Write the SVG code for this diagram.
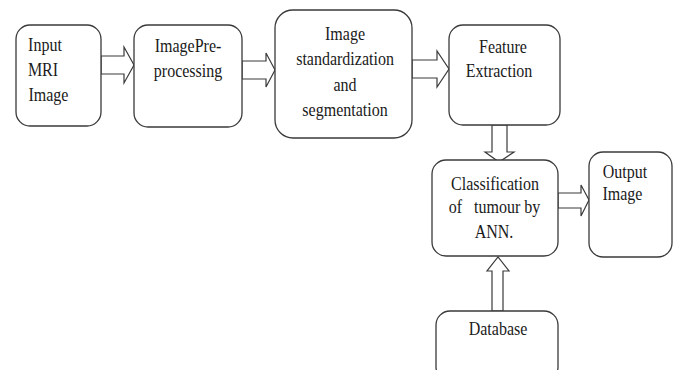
<svg xmlns="http://www.w3.org/2000/svg" width="678" height="370" viewBox="0 0 678 370">
<style>
.box{fill:#fff;stroke:#3a3a3a;stroke-width:1.3}
.arr{fill:#fff;stroke:#3a3a3a;stroke-width:1.2;stroke-linejoin:miter}
.t text{font-family:'Liberation Serif',serif;font-size:18px;fill:#1a1a1a;transform-box:fill-box;transform-origin:center;transform:scaleX(0.89)}
.c{text-anchor:middle}
</style>
<rect width="678" height="370" fill="#fff"/>
<g id="connectors">
<polygon class="arr" points="101,56 124,56 124,47 134,65 124,83 124,74 101,74"/>
<polygon class="arr" points="242,61 266,61 266,53 275,70 266,87 266,79 242,79"/>
<polygon class="arr" points="412,60 437,60 437,51 449,69 437,87 437,78 412,78"/>
<polygon class="arr" points="492,125 507,125 507,152 514,152 499,162 485,152 492,152"/>
<polygon class="arr" points="558,193 581,193 581,185 589,200 581,216 581,208 558,208"/>
<polygon class="arr" points="492,311 492,271 487,271 498,257 509,271 503,271 503,311"/>
</g>
<g id="input" class="t">
<rect class="box" x="16" y="25" width="85" height="101" rx="14"/>
<text x="26" y="51">Input</text>
<text x="26" y="76">MRI</text>
<text x="26" y="101">Image</text>
</g>
<g id="preprocessing" class="t">
<rect class="box" x="134" y="25" width="108" height="102" rx="14"/>
<text class="c" x="188" y="52">ImagePre-</text>
<text class="c" x="188" y="77">processing</text>
</g>
<g id="standardization" class="t">
<rect class="box" x="275" y="10" width="137" height="128" rx="18"/>
<text class="c" x="345" y="40">Image</text>
<text class="c" x="345" y="65">standardization</text>
<text class="c" x="345" y="91">and</text>
<text class="c" x="345" y="116">segmentation</text>
</g>
<g id="feature" class="t">
<rect class="box" x="449" y="25" width="111" height="100" rx="14"/>
<text class="c" x="503" y="53">Feature</text>
<text class="c" x="499" y="77">Extraction</text>
</g>
<g id="classification" class="t">
<rect class="box" x="432" y="160" width="126" height="96" rx="14"/>
<text class="c" x="495" y="190">Classification</text>
<text x="443" y="213" xml:space="preserve">of   tumour by</text>
<text class="c" x="494" y="238">ANN.</text>
</g>
<g id="output" class="t">
<rect class="box" x="589" y="152" width="83" height="105" rx="14"/>
<text x="600" y="178">Output</text>
<text x="600" y="200">Image</text>
</g>
<g id="database" class="t">
<rect class="box" x="436" y="311" width="122" height="70" rx="14"/>
<text class="c" x="498" y="335">Database</text>
</g>
</svg>
